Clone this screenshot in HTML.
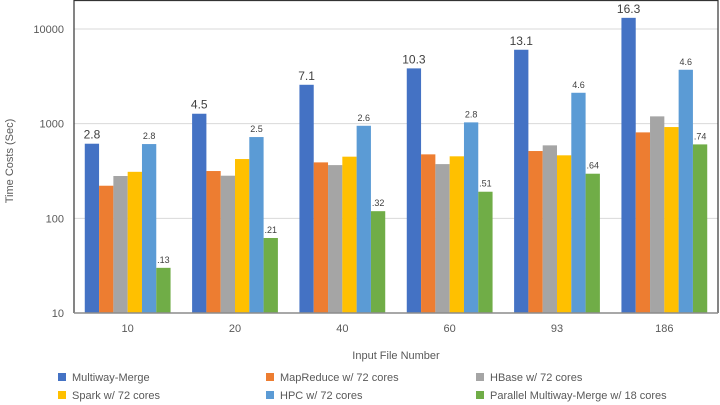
<!DOCTYPE html>
<html><head><meta charset="utf-8"><style>
body{margin:0;background:#fff;}
svg{display:block;font-family:"Liberation Sans",sans-serif;}
</style></head><body>
<svg id="chart" width="720" height="405" viewBox="0 0 720 405"></svg>
<script>
const categories=["10","20","40","60","93","186"];
const seriesNames=["Multiway-Merge","MapReduce w/ 72 cores","HBase w/ 72 cores","Spark w/ 72 cores","HPC w/ 72 cores","Parallel Multiway-Merge w/ 18 cores"];
const multiway=[614,1273,2575,3837,6036,13120];
const mapreduce=[221,316,390,474,514,809];
const hbase=[280,282,365,374,590,1194];
const spark=[310,423,448,452,463,921];
const hpc=[609,722,950,1032,2120,3710];
const parallel=[30,62,119,191,296,604];
const multiwayLabels=["2.8","4.5","7.1","10.3","13.1","16.3"];
const hpcLabels=["2.8","2.5","2.6","2.8","4.6","4.6"];
const parallelLabels=[".13",".21",".32",".51",".64",".74"];
const yTicks=[10,100,1000,10000];
const yTickLabels=["10","100","1000","10000"];

const colors=["#4472c4","#ed7d31","#a5a5a5","#ffc000","#5b9bd5","#70ad47"];
const series=[multiway,mapreduce,hbase,spark,hpc,parallel];
const L=74,R=718,T=0.5,B=313;
const yMin=10,yMax=20000;
function y(v){return B-(Math.log10(v)-Math.log10(yMin))/(Math.log10(yMax)-Math.log10(yMin))*(B-T);}
const band=(R-L)/categories.length;
function xc(i){return L+band*(i+0.5);}
const bw=14.3;
const svg=document.getElementById('chart');
const NS="http://www.w3.org/2000/svg";
function mk(tag,attrs,parent){const e=document.createElementNS(NS,tag);for(const k in attrs)e.setAttribute(k,attrs[k]);(parent||svg).appendChild(e);return e;}

yTicks.forEach((t,i)=>{
  if(t>yMin){const g=mk('line',{x1:L,x2:R,y1:y(t),y2:y(t),stroke:'#d9d9d9','stroke-width':1});
  
  }
  const tx=mk('text',{x:64,y:y(t)+4,'text-anchor':'end','font-size':11,fill:'#595959'});
  tx.textContent=yTickLabels[i];
  
  
});

categories.forEach((c,i)=>{
  const left=xc(i)-bw*3;
  series.forEach((s,j)=>{
    const r=mk('rect',{x:left+j*bw,y:y(s[i]),width:bw,height:B-y(s[i]),fill:colors[j]});
    
    
  });
  const l1=mk('text',{x:left+bw*0.5,y:y(multiway[i])-5,'text-anchor':'middle','font-size':12,fill:'#404040'});
  l1.textContent=multiwayLabels[i];
  
  
  const l2=mk('text',{x:left+bw*4.5,y:y(hpc[i])-5,'text-anchor':'middle','font-size':9,fill:'#404040'});
  l2.textContent=hpcLabels[i];
  
  
  const l3=mk('text',{x:left+bw*5.5,y:y(parallel[i])-5,'text-anchor':'middle','font-size':9,fill:'#404040'});
  l3.textContent=parallelLabels[i];
  
  
  const xt=mk('text',{x:xc(i),y:332,'text-anchor':'middle','font-size':11,fill:'#595959'});
  xt.textContent=c;
  
  
});

const frame=mk('path',{d:`M${L},${B} L${L},${T} L${R},${T} L${R},${B}`,fill:'none',stroke:'#333','stroke-width':1.2});


const xa=mk('line',{x1:L,x2:R,y1:B,y2:B,stroke:'#8c8c8c','stroke-width':1.5});



const xt=mk('text',{x:396,y:359,'text-anchor':'middle','font-size':11,fill:'#595959'});
xt.textContent='Input File Number';


const yt=mk('text',{x:0,y:0,'text-anchor':'middle','font-size':11,fill:'#595959',transform:'translate(13,161) rotate(-90)'});
yt.textContent='Time Costs (Sec)';



const lx=[58,266,476],ly=[380,398];
seriesNames.forEach((n,j)=>{
  const g=mk('g',{});
  
  
  const x0=lx[j%3],y0=ly[Math.floor(j/3)];
  mk('rect',{x:x0,y:y0-7,width:8,height:8,fill:colors[j]},g);
  const t=mk('text',{x:x0+14,y:y0+1,'font-size':11,fill:'#595959'},g);
  t.textContent=n;
});
</script>
</body></html>
